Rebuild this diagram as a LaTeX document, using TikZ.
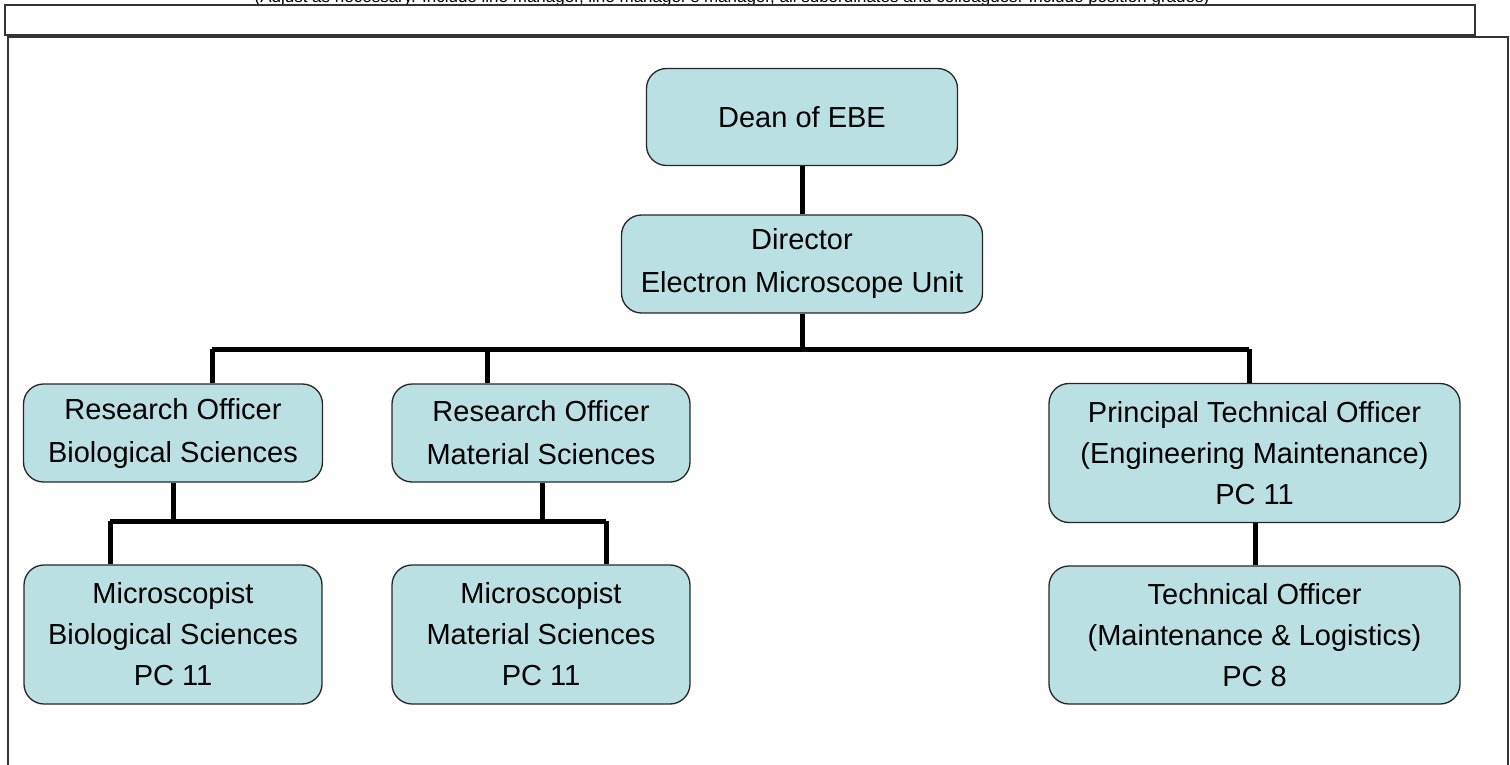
\documentclass[tikz,border=0pt]{standalone}
\usepackage{fontspec}
\setmainfont{Liberation Sans}
\definecolor{boxfill}{HTML}{BBE0E3}
\definecolor{framegray}{HTML}{333333}
\begin{document}
\begin{tikzpicture}[x=1pt,y=-1pt,
  orgbox/.style={draw=black!85, line width=1.3pt, fill=boxfill, rounded corners=20pt,
    align=center, inner sep=0pt, font=\fontsize{29}{41}\selectfont},
  twoline/.style={font=\fontsize{29}{43}\selectfont},
  link/.style={line width=5pt, black},
  framel/.style={line width=1.4pt, draw=framegray}]
\useasboundingbox (0,0) rectangle (1510,765);
% header text (clipped at the top of the page, as in the reference)
\node[anchor=base, font=\fontsize{17}{19}\selectfont, inner sep=0pt] (hdr) at (732,3)
  {(Adjust as necessary. Include line manager, line manager's manager, all subordinates and colleagues. Include position grades)};
% header box and frame
\draw[framel] (5,5) rectangle (1475,35);
\draw[framel] (8,780) -- (8,37) -- (1508,37) -- (1508,780);
% nodes
\node[orgbox, minimum width=311pt, minimum height=97pt] (dean) at (802,117) {Dean of EBE};
\node[orgbox, twoline, minimum width=361pt, minimum height=98pt] (dir) at (802,264) {Director\\Electron Microscope Unit};
\node[orgbox, twoline, minimum width=299pt, minimum height=98pt] (robio) at (173,433) {Research Officer\\Biological Sciences};
\node[orgbox, twoline, minimum width=298pt, minimum height=98pt] (romat) at (541,433) {Research Officer\\Material Sciences};
\node[orgbox, minimum width=411pt, minimum height=139pt] (pto) at (1254.5,453) {Principal Technical Officer\\(Engineering Maintenance)\\PC 11};
\node[orgbox, minimum width=411pt, minimum height=138pt] (to) at (1254.5,635) {Technical Officer\\(Maintenance \& Logistics)\\PC 8};
\node[orgbox, minimum width=298pt, minimum height=139pt] (mbio) at (173,634.5) {Microscopist\\Biological Sciences\\PC 11};
\node[orgbox, minimum width=298pt, minimum height=139pt] (mmat) at (541,634.5) {Microscopist\\Material Sciences\\PC 11};
% bus coordinates
\coordinate (b1a) at (212,349);
\coordinate (b1b) at (487,349);
\coordinate (b1c) at (802,349);
\coordinate (b1d) at (1249,349);
\coordinate (b2a) at (110,521);
\coordinate (b2b) at (173,521);
\coordinate (b2c) at (542,521);
\coordinate (b2d) at (606,521);
% connectors
\draw[link] (dean.south) -- (dir.north);
\draw[link] (dir.south) -- (b1c);
\draw[link] (b1a) -- (b1d);
\draw[link] (b1a) -- (b1a |- robio.north);
\draw[link] (b1b) -- (b1b |- romat.north);
\draw[link] (b1d) -- (b1d |- pto.north);
\draw[link] ([xshift=0.5pt]pto.south) -- ([xshift=0.5pt]to.north);
\draw[link] (robio.south) -- (b2b);
\draw[link] (b2c |- romat.south) -- (b2c);
\draw[link] (b2a) -- (b2d);
\draw[link] (b2a) -- (b2a |- mbio.north);
\draw[link] (b2d) -- (b2d |- mmat.north);
\end{tikzpicture}
\end{document}
